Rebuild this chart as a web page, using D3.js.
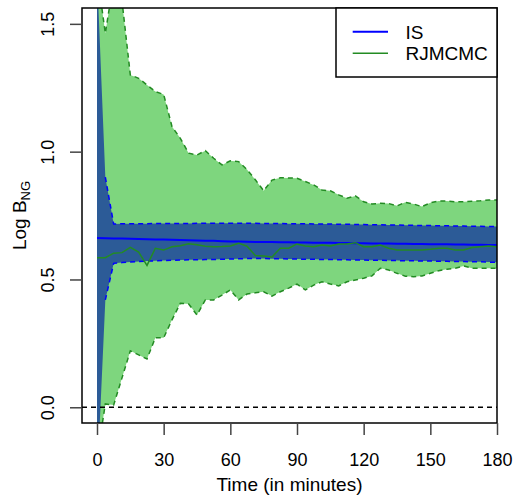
<!DOCTYPE html>
<html>
<head>
<meta charset="utf-8">
<script src="https://cdn.jsdelivr.net/npm/d3@7"></script>
<style>
  body { margin: 0; background: #fff; }
  text { font-family: "Liberation Sans", Arial, sans-serif; }
</style>
</head>
<body>
<div id="chart"></div>
<script>
// time points (minutes)
var times = [0, 3.75, 7.5, 11.25, 15, 18.75, 22.5, 26.25, 30, 33.75, 37.5, 41.25, 45, 48.75, 52.5, 56.25,
  60, 63.75, 67.5, 71.25, 75, 78.75, 82.5, 86.25, 90, 93.75, 97.5, 101.25, 105, 108.75, 112.5, 116.25,
  120, 123.75, 127.5, 131.25, 135, 138.75, 142.5, 146.25, 150, 153.75, 157.5, 161.25, 165, 168.75,
  172.5, 176.25, 180];

// IS estimate and interval
var isMean = [0.662, 0.661, 0.660, 0.660, 0.659, 0.658, 0.657, 0.656, 0.656, 0.655, 0.654, 0.653, 0.652, 0.651,
  0.651, 0.650, 0.649, 0.649, 0.648,
  0.647, 0.647, 0.647, 0.646, 0.646, 0.645, 0.645, 0.644, 0.644, 0.644, 0.643, 0.643, 0.642, 0.642, 0.641,
  0.641, 0.641, 0.640, 0.640, 0.639, 0.639, 0.638, 0.638, 0.638, 0.637, 0.637, 0.636, 0.636, 0.635, 0.635];
var isUpper = [1.70, 0.90,
  0.717, 0.718, 0.718, 0.718, 0.718, 0.719, 0.719, 0.719, 0.719, 0.719, 0.720, 0.720, 0.720, 0.720, 0.720, 0.720, 0.720,
  0.720, 0.719, 0.719, 0.719, 0.718, 0.718, 0.718, 0.717, 0.717, 0.717, 0.716, 0.716, 0.715, 0.715, 0.714,
  0.714, 0.713, 0.713, 0.712, 0.712, 0.711, 0.711, 0.710, 0.710, 0.709, 0.709, 0.708, 0.708, 0.707, 0.707];
var isLower = [-0.30, 0.42,
  0.563, 0.566, 0.568, 0.570, 0.572, 0.573, 0.574, 0.575, 0.576, 0.577, 0.577, 0.578, 0.578, 0.579, 0.580, 0.581, 0.582,
  0.582, 0.582, 0.581, 0.581, 0.580, 0.580, 0.579, 0.579, 0.578, 0.578, 0.577, 0.577, 0.576, 0.576, 0.575,
  0.575, 0.574, 0.574, 0.573, 0.573, 0.572, 0.572, 0.571, 0.571, 0.570, 0.570, 0.569, 0.569, 0.568, 0.567];

// RJMCMC estimate and interval
var rjMean = [0.585, 0.585, 0.603, 0.605, 0.626, 0.607, 0.555, 0.622, 0.615, 0.628, 0.632, 0.640, 0.636, 0.630,
  0.628, 0.629, 0.631, 0.642, 0.630, 0.594, 0.592, 0.588, 0.622, 0.622, 0.639, 0.631, 0.628, 0.635, 0.631,
  0.639, 0.639, 0.644, 0.628, 0.628, 0.635, 0.622, 0.615, 0.615, 0.615, 0.615, 0.618, 0.622, 0.622, 0.615,
  0.615, 0.625, 0.628, 0.631, 0.628];
var rjUpper = [1.70, 1.463, 1.67, 1.59, 1.300, 1.287, 1.261, 1.235, 1.224, 1.098, 1.052, 0.994, 0.987, 1.004,
  0.974, 0.948, 0.964, 0.961, 0.930, 0.890, 0.847, 0.889, 0.898, 0.897, 0.896, 0.883, 0.870, 0.850, 0.847,
  0.831, 0.818, 0.827, 0.804, 0.795, 0.798, 0.797, 0.788, 0.802, 0.795, 0.785, 0.800, 0.807, 0.807, 0.804,
  0.804, 0.806, 0.808, 0.811, 0.811];
var rjLower = [-0.20, 0.013, 0.009, 0.115, 0.221, 0.205, 0.189, 0.272, 0.272, 0.342, 0.407, 0.404, 0.361, 0.420,
  0.420, 0.439, 0.459, 0.420, 0.443, 0.448, 0.452, 0.435, 0.452, 0.466, 0.482, 0.459, 0.478, 0.491, 0.482,
  0.475, 0.491, 0.498, 0.505, 0.514, 0.544, 0.537, 0.524, 0.513, 0.511, 0.514, 0.524, 0.534, 0.540, 0.544,
  0.553, 0.544, 0.544, 0.544, 0.544];

var xTicks = [0, 30, 60, 90, 120, 150, 180];
var yTicks = [0.0, 0.5, 1.0, 1.5];
var seriesNames = ["IS", "RJMCMC"];

// plot region
var W = 514, H = 495;
var L = 82, R = 497, T = 8, B = 423;

var svg = d3.select("#chart").append("svg")
  .attr("width", W)
  .attr("height", H);

var x = d3.scaleLinear().domain([-6.75, 180]).range([L, R]);
var y = d3.scaleLinear().domain([-0.0615, 1.562]).range([B, T]);

svg.append("clipPath").attr("id", "clip")
  .append("rect").attr("x", L).attr("y", T).attr("width", R - L).attr("height", B - T);

var plot = svg.append("g").attr("clip-path", "url(#clip)");

var rows = times.map(function(t, i) {
  return {t: t, isM: isMean[i], isU: isUpper[i], isL: isLower[i], rjM: rjMean[i], rjU: rjUpper[i], rjL: rjLower[i]};
});

function band(lo, hi) {
  return d3.area().x(function(d) { return x(d.t); })
    .y0(function(d) { return y(d[lo]); })
    .y1(function(d) { return y(d[hi]); });
}
function line(key) {
  return d3.line().x(function(d) { return x(d.t); }).y(function(d) { return y(d[key]); });
}

var greenFill = "#7ed67e", greenLine = "#238b23", blueFill = "#2c5b97";

// RJMCMC band
plot.append("path").datum(rows).attr("d", band("rjL", "rjU")).attr("fill", greenFill);
["rjU", "rjL"].forEach(function(k) {
  plot.append("path").datum(rows).attr("d", line(k))
    .attr("fill", "none").attr("stroke", greenLine).attr("stroke-width", 1.5)
    .attr("stroke-dasharray", "5,4");
});

// IS band
plot.append("path").datum(rows).attr("d", band("isL", "isU")).attr("fill", blueFill);
["isU", "isL"].forEach(function(k) {
  plot.append("path").datum(rows.slice(1)).attr("d", line(k))
    .attr("fill", "none").attr("stroke", "#0000ff").attr("stroke-width", 1.5)
    .attr("stroke-dasharray", "5,4");
});

// zero reference
plot.append("line")
  .attr("x1", L).attr("x2", R).attr("y1", y(0)).attr("y2", y(0))
  .attr("stroke", "#000").attr("stroke-width", 1.5).attr("stroke-dasharray", "5,4");

// estimates
plot.append("path").datum(rows).attr("d", line("isM"))
  .attr("fill", "none").attr("stroke", "#0000ff").attr("stroke-width", 2);
plot.append("path").datum(rows).attr("d", line("rjM"))
  .attr("fill", "none").attr("stroke", greenLine).attr("stroke-width", 1.5);

// box
svg.append("rect").attr("x", L).attr("y", T).attr("width", R - L).attr("height", B - T)
  .attr("fill", "none").attr("stroke", "#000").attr("stroke-width", 1.5);

// x axis
var xAxis = svg.append("g").attr("transform", "translate(0," + B + ")")
  .call(d3.axisBottom(x).tickValues(xTicks).tickSize(12).tickPadding(18).tickFormat(d3.format("d")));
xAxis.select(".domain").remove();
xAxis.selectAll("line").attr("stroke", "#444").attr("stroke-width", 1.5);
xAxis.selectAll("text").attr("font-size", 18).attr("fill", "#000")
  .style("font-family", "'Liberation Sans', Arial, sans-serif");

// y axis
var yAxis = svg.append("g").attr("transform", "translate(" + L + ",0)")
  .call(d3.axisLeft(y).tickValues(yTicks).tickSize(12).tickFormat(d3.format(".1f")));
yAxis.select(".domain").remove();
yAxis.selectAll("line").attr("stroke", "#444").attr("stroke-width", 1.5);
yAxis.selectAll("text").remove();
yAxis.selectAll(".tick").append("text")
  .attr("transform", "translate(-28,0) rotate(-90)")
  .attr("text-anchor", "middle")
  .attr("fill", "#000")
  .attr("font-size", 18)
  .text(function(d) { return d3.format(".1f")(d); });

// axis titles
svg.append("text")
  .attr("x", (L + R) / 2).attr("y", 491)
  .attr("text-anchor", "middle").attr("font-size", 19)
  .text("Time (in minutes)");

var yl = svg.append("text")
  .attr("transform", "translate(26," + ((T + B) / 2) + ") rotate(-90)")
  .attr("text-anchor", "middle").attr("font-size", 19);
yl.append("tspan").text("Log B");
yl.append("tspan").attr("font-size", 13).attr("dy", 4).text("NG");

// legend
var lg = svg.append("g");
lg.append("rect").attr("x", 336).attr("y", T).attr("width", R - 336).attr("height", 69)
  .attr("fill", "#fff").attr("stroke", "#000").attr("stroke-width", 1.5);
var legColors = ["#0000ff", greenLine];
seriesNames.forEach(function(n, i) {
  var ly = 31.7 + i * 21.6;
  lg.append("line").attr("x1", 352.7).attr("x2", 388).attr("y1", ly).attr("y2", ly)
    .attr("stroke", legColors[i]).attr("stroke-width", i == 0 ? 2 : 1.5);
  lg.append("text").attr("x", 405.5).attr("y", ly + 7).attr("font-size", 19).text(n);
});
</script>
</body>
</html>
